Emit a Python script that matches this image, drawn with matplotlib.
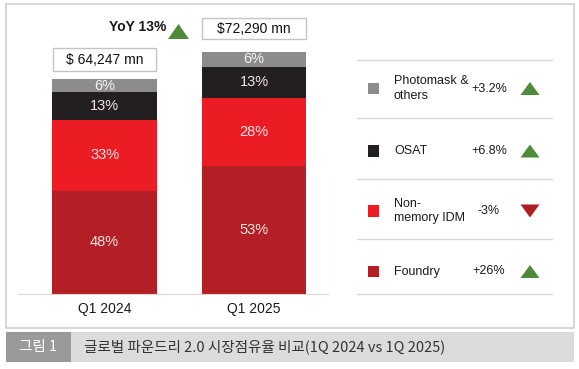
import numpy as np
import matplotlib.pyplot as plt
from matplotlib.patches import Rectangle, Polygon
from matplotlib.lines import Line2D

plt.rcParams['font.family'] = ['Liberation Sans', 'Noto Sans CJK KR']

# data
years = ['Q1 2024', 'Q1 2025']
totals = [64247, 72290]
total_labels = ['$ 64,247 mn', '$72,290 mn']
segments = ['Foundry', 'Non-\nmemory IDM', 'OSAT', 'Photomask &\nothers']
share_2024 = [48, 33, 13, 6]
share_2025 = [53, 28, 13, 6]
growth = ['+26%', '-3%', '+6.8%', '+3.2%']
yoy_label = 'YoY 13%'
caption_tag = '그림 1'
caption = '글로벌 파운드리 2.0 시장점유율 비교(1Q 2024 vs 1Q 2025)'

colors = ['#b31f24', '#ec1c24', '#231f20', '#8c8c8c']
green = '#4e8a3a'
down_red = '#b01e23'

W, H = 579, 369
fig = plt.figure(figsize=(W / 100, H / 100), dpi=100)


def fx(px):
    return px / W


def fy(py):
    return 1 - py / H


def box(x0, y0, x1, y1, **kw):
    fig.add_artist(Rectangle((fx(x0), fy(y1)), fx(x1) - fx(x0), fy(y0) - fy(y1),
                             transform=fig.transFigure, **kw))


def tri(cx, cy, w, h, color, up=True):
    if up:
        pts = [(cx - w / 2, cy + h / 2), (cx + w / 2, cy + h / 2), (cx, cy - h / 2)]
    else:
        pts = [(cx - w / 2, cy - h / 2), (cx + w / 2, cy - h / 2), (cx, cy + h / 2)]
    fig.add_artist(Polygon([(fx(a), fy(b)) for a, b in pts], closed=True,
                           transform=fig.transFigure, color=color, lw=0))


# outer frame
box(6, 4, 574, 328, fill=False, ec='#d0d0d0', lw=1.2)

# stacked bars
ax = fig.add_axes([fx(18), fy(294), fx(328) - fx(18), fy(10) - fy(294)])
ymax = 84900
ax.set_xlim(-0.579, 1.495)
ax.set_ylim(0, ymax)
upx = ymax / 284  # data units per pixel

shares = np.array([share_2024, share_2025]).T
x = np.arange(len(years))
bottom = np.zeros(len(years))
for k, seg in enumerate(segments):
    h = np.array(totals) * shares[k] / 100
    ax.bar(x, h, bottom=bottom, width=0.70, color=colors[k], lw=0)
    for i in range(len(years)):
        ax.text(x[i], bottom[i] + h[i] / 2, f'{shares[k][i]}%', ha='center', va='center',
                fontsize=10.5, color='#f3e4e4' if k < 3 else '#f5f5f5')
    bottom += h

gaps = [8, 13]
box_h = [23, 21]
for i in range(len(years)):
    y0 = totals[i] + gaps[i] * upx
    ax.add_patch(Rectangle((x[i] - 0.345, y0), 0.69, box_h[i] * upx, fc='white',
                           ec='#c4c4c4', lw=1, clip_on=False))
    ax.text(x[i], y0 + box_h[i] * upx / 2, total_labels[i], ha='center', va='center',
            fontsize=10, color='#111111')

ax.set_xticks(x, years, fontsize=10, color='#1a1a1a')
ax.tick_params(length=0, pad=6)
ax.set_yticks([])
for s in ['left', 'top', 'right']:
    ax.spines[s].set_visible(False)
ax.spines['bottom'].set_color('#d9d9d9')
ax.patch.set_visible(False)

# YoY marker
fig.text(fx(166), fy(27), yoy_label, ha='right', va='center', fontsize=10,
         fontweight='bold', color='#1a1a1a')
tri(178.5, 31.5, 21, 15, green)

# legend table
for yl in [60, 118, 179, 239, 294]:
    fig.add_artist(Line2D([fx(357), fx(552)], [fy(yl), fy(yl)], color='#d9d9d9', lw=1))

row_y = [271.5, 211, 151, 88.5]
for k, seg in enumerate(segments):
    cy = row_y[k]
    box(367.5, cy - 5.5, 378.5, cy + 5.5, fc=colors[k], lw=0)
    fig.text(fx(394), fy(cy), seg, ha='left', va='center', fontsize=9,
             color='#1a1a1a', linespacing=1.25)
    fig.text(fx(489), fy(cy), growth[k], ha='center', va='center', fontsize=9,
             color='#1a1a1a')
    up = not growth[k].startswith('-')
    tri(530, cy, 19, 13, green if up else down_red, up=up)

# caption bar
box(6, 332, 71, 362, fc='#9a9a9a', lw=0)
box(71, 332, 574, 362, fc='#dcdcdc', lw=0)
fig.text(fx(38), fy(347), caption_tag, ha='center', va='center', fontsize=10.5,
         color='white', family=['Noto Sans CJK KR'])
fig.text(fx(84), fy(347), caption, ha='left', va='center', fontsize=10.5,
         color='#333333', family=['Noto Sans CJK KR'])

fig.savefig('out.png', dpi=100)
